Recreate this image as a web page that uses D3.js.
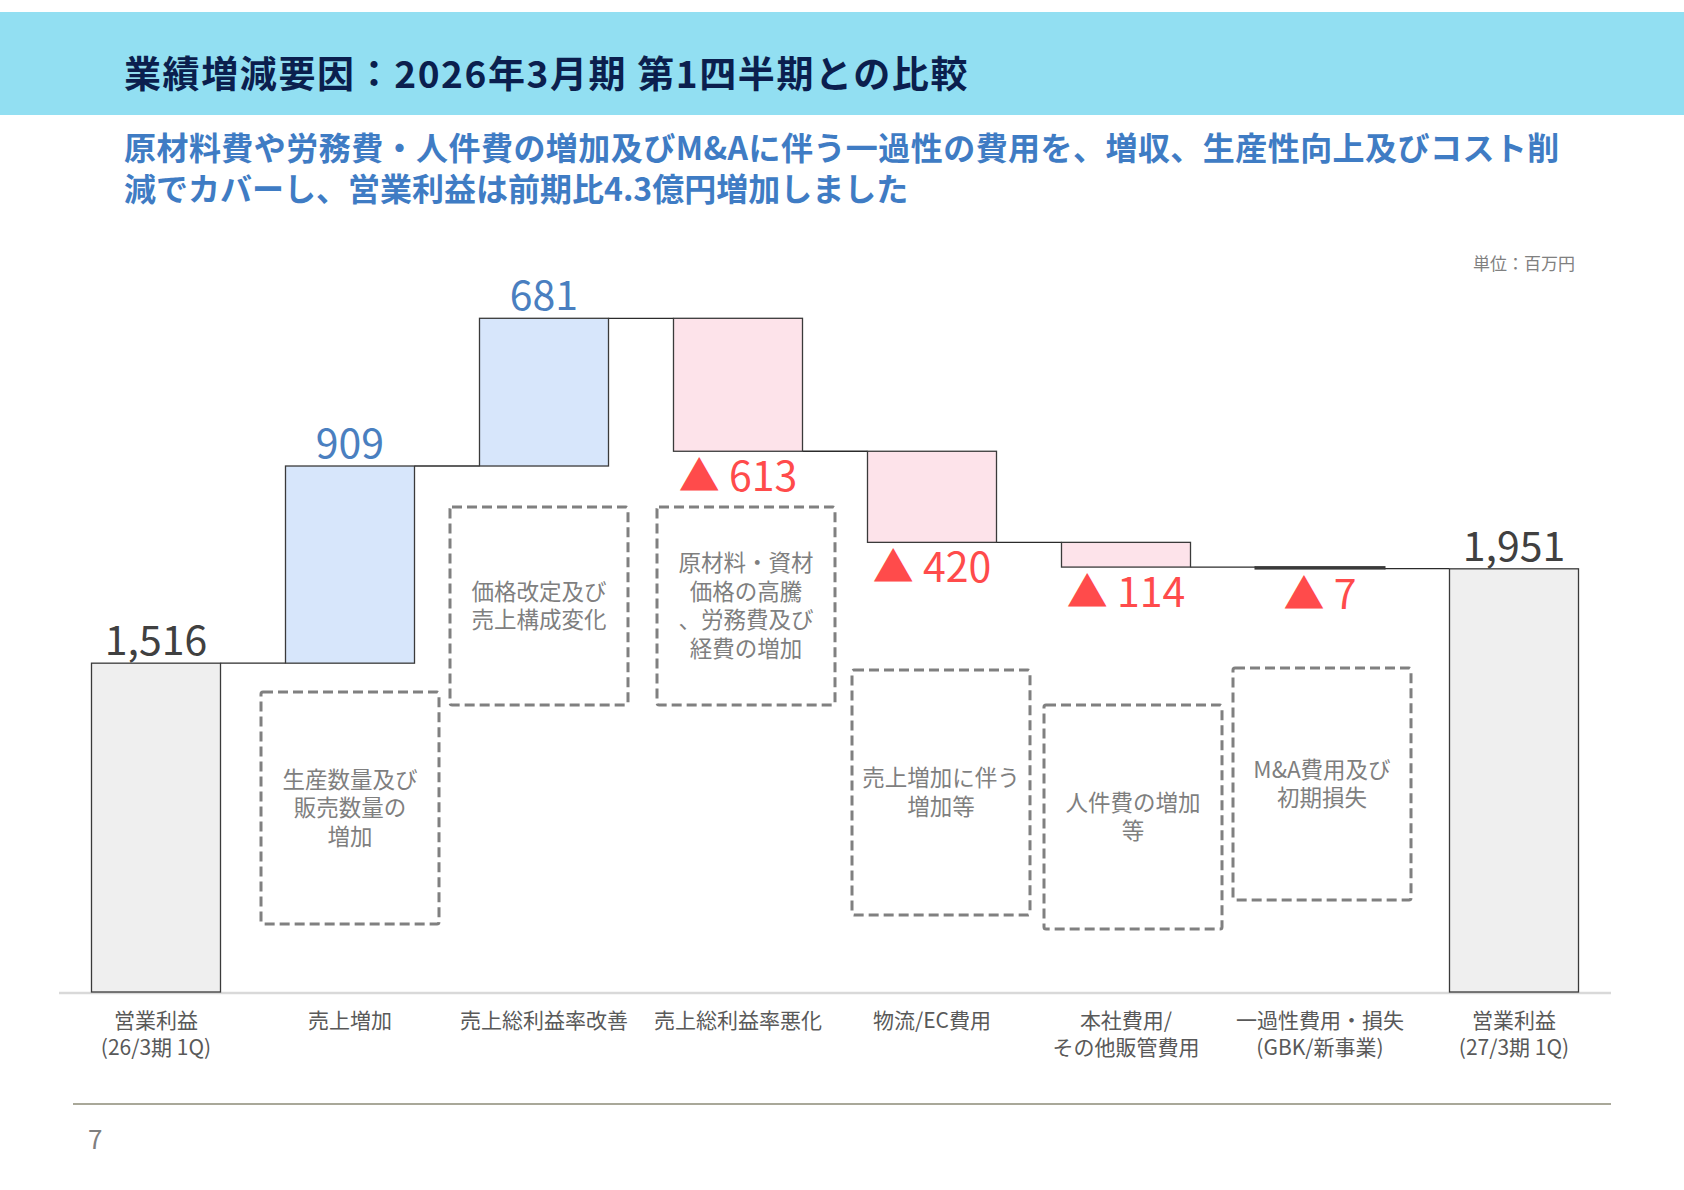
<!DOCTYPE html>
<html>
<head>
<meta charset="utf-8">
<script src="https://cdn.jsdelivr.net/npm/d3@7"></script>
<style>
  html, body { margin: 0; padding: 0; background: #fff; }
  svg { display: block; }
  text { font-family: "Noto Sans CJK JP", "Noto Sans", sans-serif; }
</style>
</head>
<body>
<svg id="chart" width="1684" height="1190"></svg>
<script>
// ---------- data ----------
const categories = [
  ["営業利益", "(26/3期 1Q)"],
  ["売上増加"],
  ["売上総利益率改善"],
  ["売上総利益率悪化"],
  ["物流/EC費用"],
  ["本社費用/", "その他販管費用"],
  ["一過性費用・損失", "(GBK/新事業)"],
  ["営業利益", "(27/3期 1Q)"]
];
const values = [1516, 909, 681, -613, -420, -114, -7, 1951];
const kinds = ["total", "inc", "inc", "dec", "dec", "dec", "dec", "total"];
const valueLabels = ["1,516", "909", "681", "▲ 613", "▲ 420", "▲ 114", "▲ 7", "1,951"];
const notes = [
  null,
  ["生産数量及び", "販売数量の", "増加"],
  ["価格改定及び", "売上構成変化"],
  ["原材料・資材", "価格の高騰", "、労務費及び", "経費の増加"],
  ["売上増加に伴う", "増加等"],
  ["人件費の増加", "等"],
  ["M&A費用及び", "初期損失"]
];
const titleText = "業績増減要因：2026年3月期 第1四半期との比較";
const subtitleLines = [
  "原材料費や労務費・人件費の増加及びM&Aに伴う一過性の費用を、増収、生産性向上及びコスト削",
  "減でカバーし、営業利益は前期比4.3億円増加しました"
];
const unitText = "単位：百万円";
const pageNo = "7";

// ---------- layout (pixels, not data) ----------
const noteLayout = [
  null,
  { dx: 0, top: 692, bottom: 924 },
  { dx: -5, top: 507, bottom: 705 },
  { dx: 8, top: 507, bottom: 705 },
  { dx: 9, top: 670, bottom: 915 },
  { dx: 7, top: 705, bottom: 929 },
  { dx: 2, top: 668, bottom: 900 }
];

const colors = {
  band: "#92dff2", title: "#0b1f4e", subtitle: "#3f7cc4",
  totalFill: "#efefef", incFill: "#d7e6fb", decFill: "#fde3ea",
  stroke: "#3a3a3a", totalText: "#404040", incText: "#4a7fc0", decText: "#ff4b4b",
  note: "#7f7f7f", cat: "#595959"
};

const svg = d3.select("#chart");

// header
svg.append("rect").attr("x", 0).attr("y", 12).attr("width", 1684).attr("height", 103).attr("fill", colors.band);
svg.append("text").attr("x", 124).attr("y", 88)
  .attr("font-size", 37).attr("font-weight", 700).attr("letter-spacing", 1.6)
  .attr("fill", colors.title).text(titleText);
const sub = svg.append("text").attr("font-size", 32).attr("font-weight", 700).attr("fill", colors.subtitle);
sub.selectAll("tspan").data(subtitleLines).join("tspan")
  .attr("x", 124).attr("y", (d, i) => 160 + i * 41)
  .attr("letter-spacing", (d, i) => i === 0 ? 0.45 : 0)
  .text(d => d);

svg.append("text").attr("x", 1575).attr("y", 270).attr("text-anchor", "end")
  .attr("font-size", 17).attr("fill", "#808080").text(unitText);

// ---------- waterfall computation ----------
let running = 0;
const steps = values.map((v, i) => {
  let y0, y1;
  if (kinds[i] === "total") { y0 = 0; y1 = v; running = v; }
  else { y0 = running; y1 = running + v; running = y1; }
  return { i, v, kind: kinds[i], y0, y1, lo: Math.min(y0, y1), hi: Math.max(y0, y1), end: kinds[i] === "total" ? v : y1 };
});

const x = d3.scaleBand().domain(d3.range(categories.length)).range([59, 1611]).paddingInner(0.335).paddingOuter(0.1675);
const maxV = d3.max(steps, d => d.hi);
const y = d3.scaleLinear().domain([0, maxV]).range([992, 318.3]);

const g = svg.append("g");

// baseline
g.append("line").attr("x1", 59).attr("x2", 1611).attr("y1", y(0) + 1).attr("y2", y(0) + 1)
  .attr("stroke", "#d9d9d9").attr("stroke-width", 2.5);

// connectors
for (let k = 0; k < steps.length - 1; k++) {
  const lvl = steps[k].end;
  g.append("line")
    .attr("x1", x(k) + x.bandwidth()).attr("x2", x(k + 1))
    .attr("y1", y(lvl)).attr("y2", y(lvl))
    .attr("stroke", "#2b2b2b").attr("stroke-width", 1.3);
}

// bars
g.selectAll("rect.bar").data(steps).join("rect").attr("class", "bar")
  .attr("x", d => x(d.i)).attr("width", x.bandwidth())
  .attr("y", d => y(d.hi)).attr("height", d => Math.max(1, y(d.lo) - y(d.hi)))
  .attr("fill", d => d.kind === "total" ? colors.totalFill : d.kind === "inc" ? colors.incFill : colors.decFill)
  .attr("stroke", colors.stroke).attr("stroke-width", d => (y(d.lo) - y(d.hi)) < 3 ? 2 : 1.3);

// value labels
g.selectAll("text.val").data(steps).join("text").attr("class", "val")
  .attr("x", d => x(d.i) + x.bandwidth() / 2)
  .attr("y", d => d.kind === "dec" ? y(d.lo) + 40 : y(d.hi) - 8)
  .attr("text-anchor", "middle").attr("font-size", 41)
  .attr("fill", d => d.kind === "total" ? colors.totalText : d.kind === "inc" ? colors.incText : colors.decText)
  .text(d => valueLabels[d.i]);

// note boxes
const noteData = notes.map((n, i) => n ? { i, lines: n, L: noteLayout[i] } : null).filter(Boolean);
const ng = g.selectAll("g.note").data(noteData).join("g").attr("class", "note");
const boxW = 178;
ng.append("rect")
  .attr("x", d => x(d.i) + x.bandwidth() / 2 + d.L.dx - boxW / 2)
  .attr("y", d => d.L.top).attr("width", boxW).attr("height", d => d.L.bottom - d.L.top)
  .attr("rx", 2).attr("fill", "none").attr("stroke", "#808080").attr("stroke-width", 3)
  .attr("stroke-dasharray", "10,5");
ng.each(function (d) {
  const cx = x(d.i) + x.bandwidth() / 2 + d.L.dx;
  const cy = (d.L.top + d.L.bottom) / 2;
  const lh = 28.5;
  const n = d.lines.length;
  const t = d3.select(this).append("text")
    .attr("text-anchor", "middle").attr("font-size", 22.5).attr("fill", colors.note);
  t.selectAll("tspan").data(d.lines).join("tspan")
    .attr("x", cx).attr("y", (s, j) => cy + (j - (n - 1) / 2) * lh + 8)
    .text(s => s);
});

// category labels
const cg = g.selectAll("text.cat").data(categories).join("text").attr("class", "cat")
  .attr("text-anchor", "middle").attr("font-size", 21).attr("fill", colors.cat);
cg.each(function (lines, i) {
  d3.select(this).selectAll("tspan").data(lines).join("tspan")
    .attr("x", x(i) + x.bandwidth() / 2).attr("y", (t, j) => 1028 + j * 27)
    .text(t => t);
});

// footer
svg.append("line").attr("x1", 73).attr("x2", 1611).attr("y1", 1104).attr("y2", 1104)
  .attr("stroke", "#a9a899").attr("stroke-width", 2);
svg.append("text").attr("x", 88).attr("y", 1149).attr("font-size", 26).attr("fill", "#7f7f7f").text(pageNo);
</script>
</body>
</html>
